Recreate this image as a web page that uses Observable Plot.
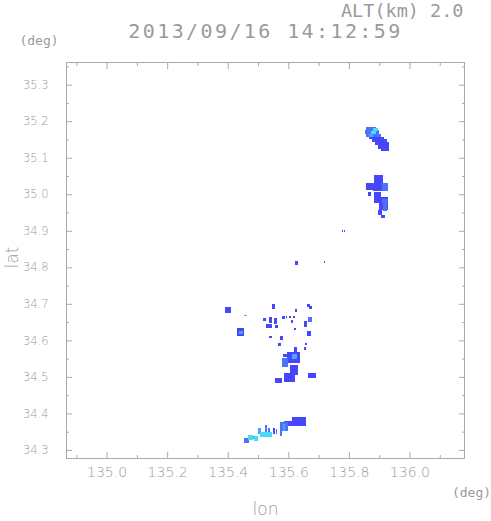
<!DOCTYPE html>
<html><head><meta charset="utf-8">
<script src="https://cdn.jsdelivr.net/npm/d3@7"></script>
<script src="https://cdn.jsdelivr.net/npm/@observablehq/plot@0.6"></script>
<style>body{margin:0;background:#fff}</style>
</head><body><div id="chart"></div>
<script>
const titleText = "2013/09/16 14:12:59";
const altText = "ALT(km) 2.0";
const unitText = "(deg)";
const xLabel = "lon";
const yLabel = "lat";

const lonTicks = [135.0, 135.2, 135.4, 135.6, 135.8, 136.0];
const lonMinor = [134.9, 135.1, 135.3, 135.5, 135.7, 135.9, 136.1];
const latTicks = [34.3, 34.4, 34.5, 34.6, 34.7, 34.8, 34.9, 35.0, 35.1, 35.2, 35.3];
const latMinor = [34.35, 34.45, 34.55, 34.65, 34.75, 34.85, 34.95, 35.05, 35.15, 35.25, 35.35];

const levels = [1, 2, 3, 4];
const levelColors = ["#4646fa", "#4a72fa", "#48a6f8", "#48dcf4"];

// echo cells: [lon1, lon2, lat1, lat2, level]
const neUpperEchoes = [
  [135.858, 135.889, 35.175, 35.184, 2],
  [135.853, 135.899, 35.166, 35.175, 2],
  [135.857, 135.907, 35.158, 35.166, 2],
  [135.865, 135.917, 35.150, 35.158, 1],
  [135.875, 135.927, 35.142, 35.150, 1],
  [135.885, 135.932, 35.134, 35.142, 1],
  [135.895, 135.934, 35.125, 35.134, 1],
  [135.905, 135.931, 35.119, 35.125, 1],
  [135.879, 135.897, 35.172, 35.181, 4],
  [135.872, 135.890, 35.164, 35.172, 4],
  [135.865, 135.881, 35.156, 35.164, 3]
];
const neLowerEchoes = [
  [135.884, 135.911, 35.032, 35.052, 1],
  [135.881, 135.917, 35.010, 35.032, 1],
  [135.909, 135.930, 35.010, 35.030, 2],
  [135.855, 135.881, 35.012, 35.030, 1],
  [135.863, 135.874, 34.996, 35.006, 1],
  [135.884, 135.907, 34.975, 35.006, 1],
  [135.901, 135.930, 34.957, 34.993, 1],
  [135.909, 135.930, 34.975, 34.988, 2],
  [135.912, 135.927, 34.953, 34.975, 2],
  [135.895, 135.910, 34.943, 34.956, 1],
  [135.905, 135.920, 34.935, 34.943, 1]
];
const centralEchoes = [
  [135.390, 135.412, 34.675, 34.690, 1],
  [135.454, 135.464, 34.667, 34.670, 3],
  [135.432, 135.455, 34.613, 34.634, 1],
  [135.438, 135.451, 34.617, 34.627, 3],
  [135.545, 135.557, 34.686, 34.699, 1],
  [135.621, 135.630, 34.677, 34.685, 1],
  [135.661, 135.670, 34.692, 34.699, 1],
  [135.668, 135.679, 34.686, 34.693, 1],
  [135.515, 135.527, 34.653, 34.660, 1],
  [135.535, 135.547, 34.647, 34.663, 1],
  [135.552, 135.564, 34.644, 34.660, 1],
  [135.578, 135.590, 34.658, 34.668, 1],
  [135.592, 135.597, 34.661, 34.668, 1],
  [135.601, 135.609, 34.661, 34.668, 1],
  [135.614, 135.622, 34.661, 34.668, 1],
  [135.608, 135.615, 34.647, 34.656, 1],
  [135.664, 135.679, 34.650, 34.663, 2],
  [135.525, 135.547, 34.634, 34.644, 1],
  [135.555, 135.567, 34.634, 34.641, 1],
  [135.651, 135.663, 34.636, 34.652, 1],
  [135.618, 135.626, 34.628, 34.633, 1],
  [135.661, 135.676, 34.612, 34.627, 1],
  [135.535, 135.547, 34.606, 34.611, 1],
  [135.572, 135.583, 34.601, 34.611, 1],
  [135.565, 135.577, 34.584, 34.594, 1],
  [135.654, 135.663, 34.587, 34.594, 1],
  [135.618, 135.630, 34.568, 34.581, 1],
  [135.651, 135.659, 34.573, 34.583, 1],
  [135.597, 135.637, 34.537, 34.567, 1],
  [135.611, 135.630, 34.549, 34.564, 3],
  [135.584, 135.599, 34.554, 34.564, 1],
  [135.580, 135.599, 34.528, 34.551, 2],
  [135.607, 135.631, 34.506, 34.532, 1],
  [135.587, 135.621, 34.487, 34.512, 1],
  [135.557, 135.580, 34.483, 34.496, 1],
  [135.664, 135.690, 34.496, 34.512, 1],
  [135.621, 135.633, 34.806, 34.817, 1],
  [135.718, 135.721, 34.813, 34.816, 1],
  [135.777, 135.780, 34.898, 34.901, 1],
  [135.784, 135.787, 34.898, 34.901, 1]
];
const southEchoes = [
  [135.613, 135.657, 34.380, 34.391, 1],
  [135.587, 135.660, 34.365, 34.380, 1],
  [135.574, 135.599, 34.353, 34.377, 2],
  [135.455, 135.470, 34.320, 34.333, 2],
  [135.467, 135.484, 34.327, 34.342, 4],
  [135.470, 135.488, 34.329, 34.337, 3],
  [135.487, 135.501, 34.324, 34.339, 4],
  [135.500, 135.510, 34.343, 34.359, 3],
  [135.505, 135.546, 34.335, 34.350, 4],
  [135.522, 135.530, 34.343, 34.367, 2],
  [135.533, 135.540, 34.343, 34.361, 2],
  [135.548, 135.557, 34.343, 34.359, 1],
  [135.559, 135.564, 34.345, 34.357, 2],
  [135.572, 135.580, 34.337, 34.361, 2],
  [135.582, 135.590, 34.351, 34.371, 3]
];

const echoes = [...neUpperEchoes, ...neLowerEchoes, ...centralEchoes, ...southEchoes]
  .slice().sort((a, b) => a[4] - b[4]);

const grey = "#9a9a9a";
const lineGrey = "#aaa";
const lightWeight = 200;

const chart = Plot.plot({
  width: 491, height: 521,
  marginLeft: 66, marginRight: 27, marginTop: 62, marginBottom: 63,
  style: {fontFamily: "DejaVu Sans", background: "#fff", overflow: "visible"},
  x: {domain: [134.866, 136.18]},
  y: {domain: [34.278, 35.362]},
  color: {type: "ordinal", domain: levels, range: levelColors},
  marks: [
    Plot.rect(echoes, {x1: d => d[0], x2: d => d[1], y1: d => d[2], y2: d => d[3], fill: d => d[4], shapeRendering: "crispEdges"}),
    Plot.frame({stroke: lineGrey}),
    Plot.axisX(lonTicks, {anchor: "bottom", tickSize: -6, tickPadding: 15, tickFormat: d => d.toFixed(1), fontSize: 14, fontWeight: lightWeight, fill: grey, stroke: lineGrey, label: null}),
    Plot.axisX(lonMinor, {anchor: "bottom", tickSize: -3, tickFormat: () => "", stroke: lineGrey, label: null}),
    Plot.axisX(lonTicks, {anchor: "top", tickSize: -6, tickFormat: () => "", stroke: lineGrey, label: null}),
    Plot.axisX(lonMinor, {anchor: "top", tickSize: -3, tickFormat: () => "", stroke: lineGrey, label: null}),
    Plot.axisY(latTicks, {anchor: "left", tickSize: -6, tickPadding: 24, tickFormat: d => d.toFixed(1), fontSize: 11.5, fontWeight: lightWeight, fill: grey, stroke: lineGrey, label: null}),
    Plot.axisY(latMinor, {anchor: "left", tickSize: -3, tickFormat: () => "", stroke: lineGrey, label: null}),
    Plot.axisY(latTicks, {anchor: "right", tickSize: -6, tickFormat: () => "", stroke: lineGrey, label: null}),
    Plot.axisY(latMinor, {anchor: "right", tickSize: -3, tickFormat: () => "", stroke: lineGrey, label: null}),
    Plot.text([titleText], {frameAnchor: "top", lineAnchor: "middle", textAnchor: "middle", dy: -31, text: d => d, fontSize: 20, fontFamily: "DejaVu Sans Mono", fontWeight: lightWeight, fill: grey}),
    Plot.text([altText], {frameAnchor: "top-right", lineAnchor: "middle", textAnchor: "end", dx: -1, dy: -51, text: d => d, fontSize: 18.5, fontFamily: "DejaVu Sans Mono", fontWeight: lightWeight, fill: grey}),
    Plot.text([unitText], {frameAnchor: "top-left", lineAnchor: "middle", textAnchor: "middle", dx: -27.5, dy: -22, text: d => d, fontSize: 13, fontFamily: "DejaVu Sans Mono", fontWeight: lightWeight, fill: grey}),
    Plot.text([unitText], {frameAnchor: "bottom-right", lineAnchor: "middle", textAnchor: "middle", dx: 7, dy: 34, text: d => d, fontSize: 13, fontFamily: "DejaVu Sans Mono", fontWeight: lightWeight, fill: grey}),
    Plot.text([xLabel], {frameAnchor: "bottom", lineAnchor: "middle", textAnchor: "middle", dy: 51, text: d => d, fontSize: 17, fontWeight: lightWeight, fill: grey}),
    Plot.text([yLabel], {frameAnchor: "left", lineAnchor: "middle", textAnchor: "middle", dx: -54, dy: -3, rotate: -90, text: d => d, fontSize: 17, fontWeight: lightWeight, fill: grey})
  ]
});
document.getElementById("chart").appendChild(chart);
d3.select(chart).selectAll("text")
  .filter(function () { return this.textContent === titleText; })
  .attr("letter-spacing", 2.4);
</script>
</body></html>
